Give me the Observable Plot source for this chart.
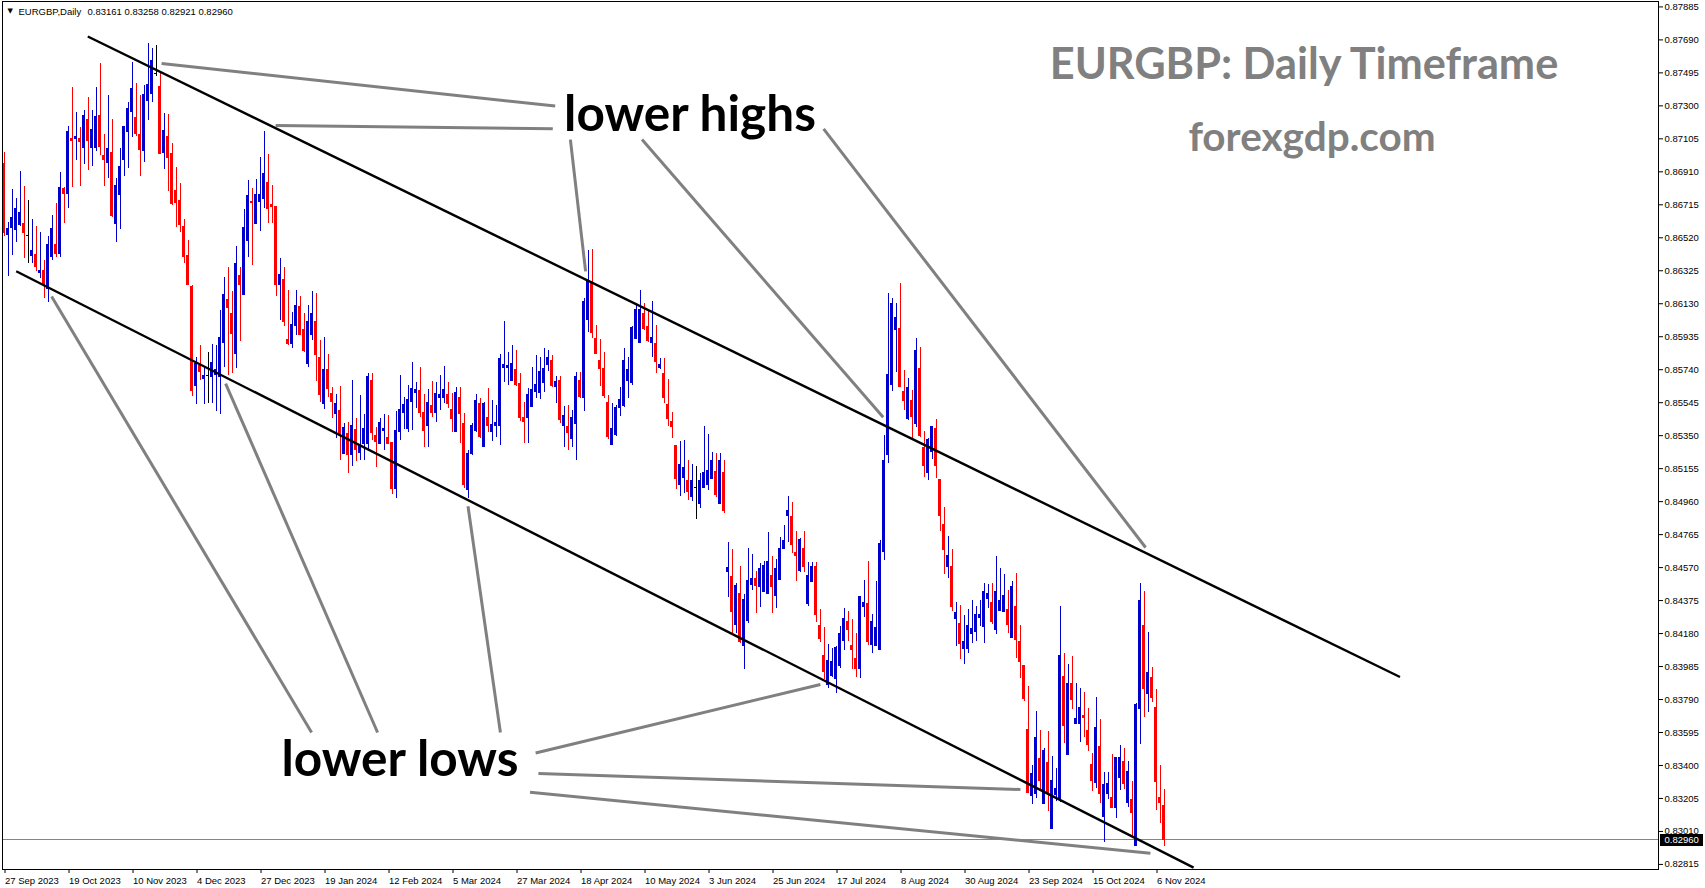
<!DOCTYPE html>
<html>
<head>
<meta charset="utf-8">
<script src="https://cdn.jsdelivr.net/npm/d3@7"></script>
<script src="https://cdn.jsdelivr.net/npm/@observablehq/plot@0.6"></script>
<style>
  html, body { margin: 0; padding: 0; background: #fff; }
  #chart svg { display: block; }
</style>
</head>
<body>
<div id="chart"></div>
<script>
// ---- Data (EURGBP daily candles, bar index 0 = 27 Sep 2023) ----
const open = [
0.86958,0.86534,0.86578,0.86568,0.86594,0.86599,0.86532,0.86410,0.86416,0.86312,
0.86322,0.86219,0.86406,0.86475,0.86422,0.86806,0.86779,0.87102,0.87104,0.87102,
0.87051,0.87214,0.87051,0.87051,0.87238,0.87001,0.86962,0.87019,0.86603,0.86773,
0.86980,0.87145,0.87263,0.87226,0.87125,0.87033,0.87328,0.87370,0.87486,0.87409,
0.87021,0.87116,0.87013,0.86798,0.86735,0.86584,0.86410,0.86229,0.85644,0.85762,
0.85685,0.85705,0.85697,0.85707,0.85697,0.85898,0.86150,0.86071,0.85835,0.86294,
0.86184,0.86501,0.86733,0.86603,0.86731,0.86751,0.86846,0.86712,0.86700,0.86239,
0.86269,0.85918,0.85894,0.85999,0.86111,
0.85972,0.85775,0.85947,0.86021,0.85811,0.85539,0.85736,0.85594,0.85476,0.85493,
0.85243,0.85358,0.85235,0.85381,0.85247,0.85298,0.85298,0.85671,0.85346,0.85302,
0.85379,0.85336,0.85306,0.85034,0.85371,0.85484,0.85391,0.85549,0.85602,0.85612,
0.85484,0.85405,0.85523,0.85484,0.85572,0.85574,0.85588,0.85499,0.85371,0.85572,
0.85421,0.85027,0.85239,0.85375,0.85539,0.85283,0.85454,0.85371,0.85405,0.85405,
0.85750,0.85750,0.85673,0.85736,0.85657,0.85454,0.85456,0.85519,0.85608,0.85602,
0.85661,0.85765,0.85789,0.85637,0.85671,0.85405,0.85401,0.85332,0.85421,0.85671,
0.85572,0.86031,0.86258,0.85923,0.85789,0.85746,0.85543,0.85296,0.85352,0.85513,
0.85523,0.85671,0.85661,
0.85923,0.85897,0.86071,0.85992,0.85897,0.85893,0.85753,0.85716,0.85529,0.85428,
0.85286,0.85056,0.85099,0.85082,0.84987,0.85042,0.84944,0.85040,0.85056,0.85095,
0.85135,0.84944,0.85129,
0.84543,0.84517,0.84228,0.84415,0.84109,0.84257,0.84470,0.84500,0.84458,0.84425,
0.84411,0.84523,0.84405,0.84494,0.84681,0.84874,0.84872,0.84659,0.84549,0.84677,
0.84352,0.84484,0.84572,0.84222,0.84050,0.83877,0.83932,0.83912,0.83987,0.84135,
0.84247,0.84104,0.84027,0.83968,0.84336,0.84356,0.84115,0.84104,0.84080,
0.84662,0.85234,0.85647,0.85972,0.85982,0.85608,0.85446,0.85553,0.85421,0.85742,
0.85277,0.85129,0.85253,0.85391,0.85086,0.84820,0.84574,0.84574,0.84268,0.84235,
0.84087,0.84091,0.84180,0.84190,0.84272,0.84219,0.84387,0.84361,0.84199,0.84314,
0.84308,0.84318,0.84154,
0.84336,0.84129,0.83986,0.83607,0.83219,0.83233,0.83436,0.83170,0.83414,0.83026,
0.83227,0.83194,0.83926,0.83460,0.83879,0.83647,0.83643,0.83692,0.83601,0.83400,
0.83296,0.83509,0.83095,0.83233,0.83207,0.83148,0.83326,0.83420,0.83178,0.83194,
0.82924,0.83731,0.84224,0.83820,0.83917,0.83739,0.83209,0.83161
];
const high = [
0.87027,0.86613,0.86806,0.86751,0.86913,0.86824,0.86741,0.86629,0.86584,0.86554,
0.86387,0.86525,0.86653,0.86720,0.86907,0.86816,0.87179,0.87409,0.87263,0.87171,
0.87273,0.87352,0.87273,0.87411,0.87549,0.87131,0.87362,0.87220,0.86869,0.87047,
0.87179,0.87322,0.87559,0.87435,0.87362,0.87421,0.87667,0.87638,0.87657,0.87500,
0.87255,0.87250,0.87076,0.86938,0.86840,0.86627,0.86501,0.86235,0.85815,0.85884,
0.85756,0.85843,0.85890,0.85884,0.86091,0.86288,0.86343,0.86200,0.86469,0.86347,
0.86688,0.86860,0.86810,0.86865,0.86997,0.87149,0.87013,0.86830,0.86702,0.86397,
0.86343,0.86210,0.86077,0.86210,0.86170,
0.86071,0.86120,0.86203,0.86189,0.85913,0.85929,0.85830,0.85637,0.85592,0.85641,
0.85421,0.85427,0.85677,0.85454,0.85588,0.85476,0.85716,0.85716,0.85401,0.85450,
0.85476,0.85470,0.85306,0.85490,0.85706,0.85578,0.85647,0.85785,0.85667,0.85756,
0.85592,0.85622,0.85671,0.85667,0.85706,0.85759,0.85667,0.85598,0.85637,0.85637,
0.85480,0.85263,0.85421,0.85592,0.85572,0.85549,0.85631,0.85559,0.85529,0.85828,
0.86025,0.85840,0.85884,0.85854,0.85716,0.85549,0.85631,0.85756,0.85824,0.85815,
0.85864,0.85854,0.85824,0.85702,0.85700,0.85525,0.85529,0.85499,0.85726,0.85726,
0.86159,0.86445,0.86450,0.86002,0.85917,0.85844,0.85588,0.85539,0.85529,0.85637,
0.85868,0.85815,0.85996,
0.86126,0.86208,0.86130,0.86090,0.86143,0.86002,0.85805,0.85805,0.85682,0.85489,
0.85286,0.85318,0.85322,0.85204,0.85180,0.85170,0.85125,0.85405,0.85357,0.85249,
0.85247,0.85247,0.85204,
0.84720,0.84677,0.84474,0.84576,0.84411,0.84681,0.84647,0.84547,0.84596,0.84608,
0.84777,0.84635,0.84618,0.84750,0.84819,0.84990,0.84957,0.84785,0.84740,0.84785,
0.84598,0.84598,0.84598,0.84320,0.84214,0.84115,0.84090,0.84106,0.84222,0.84326,
0.84310,0.84263,0.84182,0.84401,0.84494,0.84606,0.84293,0.84488,0.84730,
0.85352,0.86193,0.86160,0.86134,0.86248,0.85736,0.85687,0.85618,0.85923,0.85870,
0.85372,0.85336,0.85401,0.85446,0.85086,0.84928,0.84755,0.84678,0.84361,0.84347,
0.84284,0.84324,0.84377,0.84341,0.84373,0.84475,0.84469,0.84475,0.84637,0.84564,
0.84530,0.84436,0.84485,
0.84537,0.84228,0.83986,0.83867,0.83397,0.83720,0.83607,0.83503,0.83601,0.83456,
0.83385,0.84342,0.84064,0.83997,0.84045,0.83887,0.83854,0.83834,0.83739,0.83469,
0.83804,0.83670,0.83361,0.83357,0.83465,0.83450,0.83519,0.83503,0.83426,0.83306,
0.83769,0.84478,0.84429,0.84188,0.83982,0.83850,0.83400,0.83258
];
const low = [
0.86525,0.86292,0.86416,0.86491,0.86584,0.86395,0.86367,0.86367,0.86318,0.86278,
0.86160,0.86140,0.86387,0.86406,0.86406,0.86607,0.86692,0.86820,0.86978,0.86826,
0.86952,0.86915,0.86944,0.87033,0.87007,0.86826,0.86873,0.86637,0.86495,0.86568,
0.86885,0.86928,0.87112,0.87120,0.86885,0.86968,0.87214,0.87317,0.87474,0.87013,
0.86923,0.86791,0.86708,0.86578,0.86550,0.86367,0.86243,0.85579,0.85534,0.85677,
0.85534,0.85540,0.85540,0.85490,0.85477,0.85756,0.85707,0.85717,0.85746,0.85904,
0.86184,0.86406,0.86357,0.86603,0.86560,0.86692,0.86603,0.86603,0.86170,0.86032,
0.85993,0.85884,0.85865,0.85944,0.85944,
0.85844,0.85756,0.85913,0.85673,0.85549,0.85503,0.85578,0.85450,0.85332,0.85204,
0.85239,0.85129,0.85165,0.85200,0.85204,0.85204,0.85263,0.85322,0.85161,0.85302,
0.85263,0.85298,0.85003,0.84977,0.85322,0.85385,0.85371,0.85381,0.85509,0.85460,
0.85279,0.85279,0.85456,0.85427,0.85499,0.85539,0.85509,0.85371,0.85371,0.85302,
0.85036,0.84977,0.85233,0.85371,0.85332,0.85279,0.85371,0.85318,0.85342,0.85293,
0.85667,0.85647,0.85671,0.85641,0.85436,0.85302,0.85302,0.85519,0.85572,0.85562,
0.85608,0.85732,0.85637,0.85539,0.85421,0.85283,0.85263,0.85283,0.85204,0.85572,
0.85495,0.85962,0.85923,0.85834,0.85641,0.85568,0.85326,0.85296,0.85346,0.85464,
0.85519,0.85568,0.85647,
0.85923,0.85897,0.85972,0.85903,0.85814,0.85716,0.85742,0.85542,0.85407,0.85332,
0.85032,0.84993,0.85007,0.84967,0.84958,0.84853,0.84918,0.85040,0.85026,0.85089,
0.84987,0.84944,0.84889,
0.84395,0.84178,0.84178,0.84123,0.83968,0.84238,0.84435,0.84297,0.84336,0.84425,
0.84411,0.84301,0.84330,0.84494,0.84681,0.84720,0.84655,0.84490,0.84543,0.84543,
0.84342,0.84484,0.84247,0.84129,0.83909,0.83853,0.83922,0.83824,0.83971,0.84080,
0.84133,0.83968,0.83918,0.83916,0.84277,0.84109,0.84064,0.84104,0.84080,
0.84609,0.85188,0.85614,0.85726,0.85634,0.85496,0.85437,0.85332,0.85397,0.85342,
0.85102,0.85082,0.85210,0.85096,0.84781,0.84528,0.84505,0.84308,0.84101,0.84026,
0.83997,0.84062,0.84121,0.84131,0.84219,0.84121,0.84327,0.84235,0.84174,0.84314,
0.84308,0.84180,0.84154,
0.84035,0.83917,0.83781,0.83233,0.83168,0.83207,0.83253,0.83170,0.83125,0.83026,
0.83190,0.83184,0.83529,0.83460,0.83731,0.83647,0.83538,0.83568,0.83483,0.83249,
0.83263,0.83178,0.82947,0.83198,0.83144,0.83085,0.83253,0.83257,0.83150,0.82977,
0.82924,0.83525,0.83686,0.83716,0.83775,0.83135,0.83056,0.82921
];
const close = [
0.86548,0.86574,0.86639,0.86688,0.86665,0.86550,0.86532,0.86440,0.86347,0.86324,
0.86245,0.86475,0.86570,0.86422,0.86812,0.86777,0.87143,0.87092,0.87114,0.87086,
0.87238,0.87092,0.87155,0.87232,0.87057,0.86978,0.87043,0.86647,0.86826,0.86940,
0.87173,0.87279,0.87397,0.87131,0.87037,0.87362,0.87421,0.87563,0.87486,0.87015,
0.87149,0.86991,0.86720,0.86724,0.86594,0.86406,0.86243,0.85614,0.85776,0.85725,
0.85701,0.85705,0.85780,0.85737,0.85926,0.86184,0.86107,0.85953,0.86367,0.86243,
0.86576,0.86767,0.86726,0.86771,0.86771,0.86895,0.86688,0.86702,0.86239,0.86302,
0.86022,0.85890,0.86003,0.86115,0.85944,
0.85850,0.86021,0.86067,0.85824,0.85588,0.85736,0.85625,0.85549,0.85539,0.85352,
0.85397,0.85233,0.85405,0.85267,0.85289,0.85387,0.85696,0.85365,0.85312,0.85423,
0.85387,0.85302,0.85034,0.85375,0.85499,0.85533,0.85559,0.85624,0.85622,0.85486,
0.85377,0.85543,0.85484,0.85598,0.85590,0.85622,0.85539,0.85450,0.85602,0.85480,
0.85056,0.85243,0.85405,0.85553,0.85342,0.85539,0.85405,0.85415,0.85425,0.85801,
0.85765,0.85759,0.85775,0.85651,0.85454,0.85430,0.85588,0.85622,0.85647,0.85724,
0.85746,0.85811,0.85641,0.85665,0.85444,0.85464,0.85365,0.85454,0.85694,0.85578,
0.86140,0.86258,0.85956,0.85834,0.85746,0.85582,0.85342,0.85387,0.85513,0.85562,
0.85789,0.85736,0.85986,
0.86094,0.86094,0.85982,0.85909,0.85929,0.85785,0.85769,0.85572,0.85450,0.85401,
0.85091,0.85174,0.85156,0.85017,0.85082,0.85042,0.85082,0.85131,0.85139,0.85200,
0.84997,0.85200,0.84902,
0.84566,0.84306,0.84460,0.84129,0.84381,0.84488,0.84503,0.84460,0.84559,0.84582,
0.84606,0.84454,0.84563,0.84681,0.84730,0.84907,0.84704,0.84641,0.84736,0.84576,
0.84523,0.84572,0.84287,0.84145,0.83952,0.84015,0.84011,0.84096,0.84178,0.84267,
0.84202,0.84080,0.83972,0.84395,0.84362,0.84133,0.84251,0.84212,0.84710,
0.85198,0.85710,0.86126,0.86047,0.85638,0.85555,0.85634,0.85460,0.85848,0.85348,
0.85171,0.85322,0.85401,0.85171,0.84875,0.84672,0.84639,0.84337,0.84302,0.84121,
0.84131,0.84223,0.84207,0.84288,0.84288,0.84426,0.84416,0.84249,0.84426,0.84371,
0.84400,0.84233,0.84456,
0.84139,0.84011,0.83791,0.83237,0.83347,0.83562,0.83306,0.83483,0.83233,0.83308,
0.83259,0.84045,0.83633,0.83879,0.83785,0.83672,0.83739,0.83680,0.83519,0.83306,
0.83621,0.83229,0.83282,0.83288,0.83150,0.83444,0.83444,0.83288,0.83361,0.83119,
0.83755,0.84370,0.83850,0.83948,0.83798,0.83302,0.83178,0.82960
];

// x-axis tick labels (one every 16 bars)
const tickIndex = [0,16,32,48,64,80,96,112,128,144,160,176,192,208,224,240,256,272,288];
const dateLabels = ["27 Sep 2023","19 Oct 2023","10 Nov 2023","4 Dec 2023","27 Dec 2023",
  "19 Jan 2024","12 Feb 2024","5 Mar 2024","27 Mar 2024","18 Apr 2024","10 May 2024",
  "3 Jun 2024","25 Jun 2024","17 Jul 2024","8 Aug 2024","30 Aug 2024","23 Sep 2024",
  "15 Oct 2024","6 Nov 2024"];

// price-axis tick labels
const priceTicks = [0.82815,0.83010,0.83205,0.83400,0.83595,0.83790,0.83985,0.84180,
  0.84375,0.84570,0.84765,0.84960,0.85155,0.85350,0.85545,0.85740,0.85935,0.86130,
  0.86325,0.86520,0.86715,0.86910,0.87105,0.87300,0.87495,0.87690,0.87885];

// channel trendlines (bar index, price)
const channelLines = [
  {i1: 20.95, p1: 0.87710, i2: 349.0, p2: 0.83923},
  {i1: 3.05,  p1: 0.86322, i2: 297.4, p2: 0.82796}
];
// grey pointer lines (bar index, price)
const pointerLines = [
  {i1: 39.4,  p1: 0.87550, i2: 137.8, p2: 0.87299},
  {i1: 67.9,  p1: 0.87184, i2: 137.2, p2: 0.87164},
  {i1: 141.6, p1: 0.87100, i2: 145.4, p2: 0.86321},
  {i1: 159.5, p1: 0.87101, i2: 219.8, p2: 0.85459},
  {i1: 204.9, p1: 0.87164, i2: 285.4, p2: 0.84689},
  {i1: 11.9,  p1: 0.86173, i2: 76.9,  p2: 0.83595},
  {i1: 55.4,  p1: 0.85658, i2: 93.4,  p2: 0.83595},
  {i1: 116.0, p1: 0.84933, i2: 124.1, p2: 0.83595},
  {i1: 132.9, p1: 0.83474, i2: 204.1, p2: 0.83879},
  {i1: 133.6, p1: 0.83352, i2: 254.1, p2: 0.83258},
  {i1: 131.5, p1: 0.83242, i2: 286.6, p2: 0.82881}
];
// annotation labels (anchor at text baseline centre)
const annotations = [
  {text: "lower highs", i: 171.5, p: 0.87151},
  {text: "lower lows",  i: 99.0,  p: 0.83339}
];
const titles = [
  {text: "EURGBP: Daily Timeframe", i: 325.0, p: 0.87456, size: 43.3},
  {text: "forexgdp.com",            i: 327.0, p: 0.87036, size: 40.5}
];

// ---- Build ----
const UP = "#0000cd", DOWN = "#ff0000", DOJI = "#000000";
const bars = open.map((o, i) => ({i, open: o, high: high[i], low: low[i], close: close[i]}));
const col = d => d.close > d.open ? UP : d.close < d.open ? DOWN : DOJI;
const last = bars[bars.length - 1];
const fmt = d => d.toFixed(5);
const xDomain = [-0.375, 413.625];

const chart = Plot.plot({
  width: 1705,
  height: 888,
  marginLeft: 2,
  marginRight: 47,
  marginTop: 1,
  marginBottom: 19,
  x: {type: "linear", domain: xDomain},
  y: {type: "linear", domain: [0.82785, 0.87917]},
  style: {fontFamily: "'Liberation Sans', Arial, sans-serif", fontSize: "9.5px", background: "#fff", color: "#000", overflow: "visible"},
  marks: [
    Plot.ruleY([last.close], {stroke: "#778899", strokeWidth: 1, shapeRendering: "crispEdges"}),
    Plot.ruleX(bars, {x: "i", y1: "low", y2: "high", stroke: col, strokeWidth: 1, shapeRendering: "crispEdges"}),
    Plot.rect(bars, {
      x1: d => d.i - 0.375, x2: d => d.i + 0.375,
      y1: d => Math.min(d.open, d.close), y2: d => Math.max(d.open, d.close),
      fill: col, insetTop: -0.5, insetBottom: -0.5, shapeRendering: "crispEdges"
    }),
    Plot.link(channelLines, {x1: "i1", y1: "p1", x2: "i2", y2: "p2", stroke: "#000", strokeWidth: 2.4}),
    Plot.link(pointerLines, {x1: "i1", y1: "p1", x2: "i2", y2: "p2", stroke: "#808080", strokeWidth: 3}),
    Plot.text(annotations, {x: "i", y: "p", text: "text", fontFamily: "Lato, 'Open Sans', sans-serif",
      fontWeight: "bold", fontSize: 49.5, fill: "#000", textAnchor: "middle", lineAnchor: "bottom"}),
    Plot.text(titles, {x: "i", y: "p", text: "text", fontFamily: "Lato, 'Open Sans', sans-serif",
      fontWeight: "bold", fontSize: d => d.size, fill: "#808080", textAnchor: "middle", lineAnchor: "bottom"}),
    Plot.frame({stroke: "#000", strokeWidth: 1}),
    Plot.axisY({anchor: "right", ticks: priceTicks, tickFormat: fmt, tickSize: 4, tickPadding: 2, fontSize: 9.5}),
    Plot.axisX({anchor: "bottom", ticks: tickIndex, tickFormat: d => dateLabels[tickIndex.indexOf(d)],
      tickSize: 4, tickPadding: 4, textAnchor: "start", dx: 1, fontSize: 9.5}),
    // last price box on the price scale
    Plot.ruleY([last.close], {x1: xDomain[1] + 0.5, x2: xDomain[1] + 11.25, stroke: "#000", strokeWidth: 12}),
    Plot.text([last.close], {x: xDomain[1] + 1.5, y: d => d, text: fmt, fill: "#fff", textAnchor: "start", lineAnchor: "middle", fontSize: 9.5}),
    // header line
    Plot.text(["\u25BC"], {frameAnchor: "top-left", dx: 5, dy: 11.5, textAnchor: "start", lineAnchor: "bottom",
      fontSize: 7, fontFamily: "'DejaVu Sans', sans-serif", fill: "#000"}),
    Plot.text(["EURGBP,Daily"], {frameAnchor: "top-left", dx: 16, dy: 13, textAnchor: "start", lineAnchor: "bottom", fill: "#000"}),
    Plot.text([[last.open, last.high, last.low, last.close].map(fmt).join(" ")], {frameAnchor: "top-left", dx: 85, dy: 13,
      textAnchor: "start", lineAnchor: "bottom", fill: "#000"})
  ]
});
document.getElementById("chart").appendChild(chart);
</script>
</body>
</html>
